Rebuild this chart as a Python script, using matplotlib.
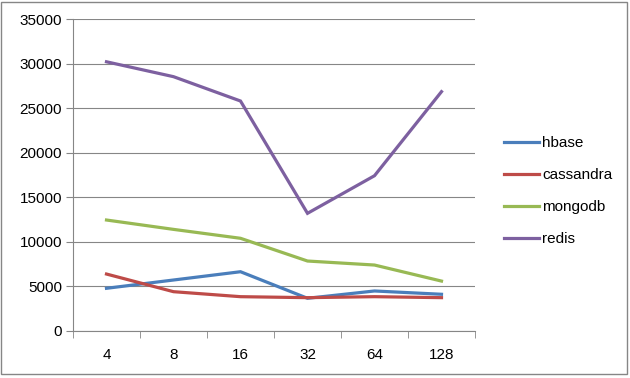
import matplotlib
matplotlib.use("Agg")
import matplotlib.pyplot as plt
from matplotlib.patches import Rectangle
import numpy as np

categories = ["4", "8", "16", "32", "64", "128"]
hbase = [4790, 5720, 6650, 3670, 4490, 4120]
cassandra = [6390, 4410, 3850, 3740, 3850, 3740]
mongodb = [12450, 11400, 10400, 7850, 7400, 5600]
redis = [30200, 28530, 25800, 13200, 17420, 26850]
series_names = ["hbase", "cassandra", "mongodb", "redis"]
colors = ["#4A7EBB", "#BE4B48", "#98B954", "#7D60A0"]

plt.rcParams['font.family'] = ['Liberation Sans', 'DejaVu Sans']

fig = plt.figure(figsize=(6.3, 3.78), dpi=100)
ax = fig.add_axes([73/630, 1-331/378, (475-73)/630, (331-19)/378])

x = np.arange(len(categories))
for name, vals, c in zip(series_names, [hbase, cassandra, mongodb, redis], colors):
    ax.plot(x, vals, color=c, lw=2.3, label=name, solid_joinstyle='miter')

ax.set_xlim(-0.5, len(categories) - 0.5)
ax.set_ylim(0, 35000)
ax.set_yticks(np.arange(0, 35001, 5000))
ax.set_xticks(x)
ax.set_xticklabels(categories)
ax.set_xticks(np.arange(-0.5, len(categories), 1), minor=True)
ax.tick_params(axis='x', which='major', length=0, pad=12, labelsize=11)
ax.tick_params(axis='x', which='minor', length=5, color='#868686', direction='out')
ax.tick_params(axis='y', length=5, color='#868686', labelsize=11, pad=3)
ax.yaxis.grid(True, color='#868686', lw=0.8)
ax.set_axisbelow(True)
for s in ['top', 'right']:
    ax.spines[s].set_visible(False)
for s in ['left', 'bottom']:
    ax.spines[s].set_color('#868686')
    ax.spines[s].set_linewidth(0.8)

leg = fig.legend(loc='upper left', bbox_to_anchor=(498/630, 1-130/378), frameon=False,
                 fontsize=11, handlelength=2.3, handletextpad=0.2, labelspacing=1.18,
                 borderaxespad=0)

fig.patches.append(Rectangle((1/630, 4/378), 626/630, 372/378, transform=fig.transFigure,
                             fill=False, edgecolor='#868686', lw=1.0))
fig.savefig("out.png", dpi=100)
